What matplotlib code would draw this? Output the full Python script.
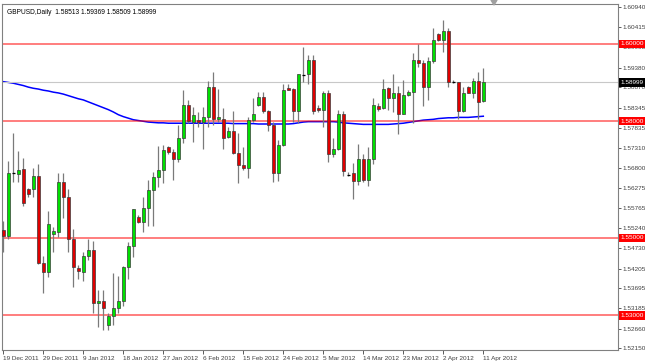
import matplotlib
matplotlib.use("Agg")
import matplotlib.pyplot as plt
import matplotlib.transforms as mtransforms
from matplotlib.patches import Polygon
import numpy as np

plt.rcParams['font.family'] = ['Liberation Sans', 'DejaVu Sans']

# GBPUSD daily bars, 19 Dec 2011 .. 11 Apr 2012
opens = [1.5520, 1.5504, 1.5666, 1.5663, 1.5677, 1.5626, 1.5625, 1.5659, 1.5434, 1.5411,
         1.5509, 1.5515, 1.5643, 1.5606, 1.5496, 1.5422, 1.5412, 1.5454, 1.5468, 1.5333,
         1.5338, 1.5275, 1.5298, 1.5318, 1.5338, 1.5424, 1.5479, 1.5554, 1.5540, 1.5576,
         1.5623, 1.5656, 1.5674, 1.5733, 1.5721, 1.5702, 1.5757, 1.5843, 1.5799, 1.5803,
         1.5798, 1.5810, 1.5889, 1.5805, 1.5806, 1.5760, 1.5774, 1.5719, 1.5688, 1.5680,
         1.5803, 1.5842, 1.5863, 1.5827, 1.5790, 1.5667, 1.5740, 1.5885, 1.5883, 1.5826,
         1.5919, 1.5921, 1.5958, 1.5835, 1.5829, 1.5872, 1.5717, 1.5728, 1.5818, 1.5661,
         1.5666, 1.5647, 1.5702, 1.5649, 1.5702, 1.5840, 1.5834, 1.5885, 1.5861, 1.5872,
         1.5820, 1.5867, 1.5876, 1.5958, 1.5951, 1.5889, 1.5955, 1.6024, 1.6009, 1.6033,
         1.5902, 1.5900, 1.5827, 1.5889, 1.5873, 1.5904, 1.58513]
highs = [1.5544, 1.5698, 1.5770, 1.5724, 1.5705, 1.5629, 1.5679, 1.5690, 1.5453, 1.5569,
         1.5528, 1.5668, 1.5668, 1.5625, 1.5522, 1.5430, 1.5464, 1.5498, 1.5492, 1.5365,
         1.5365, 1.5305, 1.5408, 1.5401, 1.5427, 1.5490, 1.5574, 1.5558, 1.5606, 1.5650,
         1.5670, 1.5736, 1.5739, 1.5736, 1.5728, 1.5790, 1.5880, 1.5856, 1.5837, 1.5824,
         1.5837, 1.5904, 1.5927, 1.5882, 1.5833, 1.5786, 1.5826, 1.5769, 1.5733, 1.5812,
         1.5861, 1.5876, 1.5876, 1.5829, 1.5798, 1.5751, 1.5897, 1.5897, 1.5885, 1.5923,
         1.5990, 1.5970, 1.5970, 1.5842, 1.5878, 1.5880, 1.5757, 1.5829, 1.5827, 1.5670,
         1.5693, 1.5741, 1.5717, 1.5733, 1.5859, 1.5846, 1.5910, 1.5889, 1.5921, 1.5891,
         1.5906, 1.5880, 1.5975, 1.5998, 1.5958, 1.5966, 1.6039, 1.6028, 1.6062, 1.6039,
         1.5906, 1.5902, 1.5887, 1.5891, 1.5912, 1.5927, 1.59369]
lows = [1.5464, 1.5498, 1.5644, 1.5644, 1.5582, 1.5606, 1.5606, 1.5432, 1.5358, 1.5400,
        1.5464, 1.5503, 1.5552, 1.5464, 1.5372, 1.5394, 1.5389, 1.5443, 1.5306, 1.5271,
        1.5262, 1.5262, 1.5275, 1.5306, 1.5324, 1.5395, 1.5451, 1.5537, 1.5515, 1.5530,
        1.5530, 1.5631, 1.5640, 1.5717, 1.5650, 1.5696, 1.5743, 1.5795, 1.5747, 1.5784,
        1.5728, 1.5786, 1.5790, 1.5798, 1.5728, 1.5758, 1.5715, 1.5642, 1.5674, 1.5653,
        1.5799, 1.5839, 1.5822, 1.5775, 1.5644, 1.5647, 1.5736, 1.5880, 1.5799, 1.5795,
        1.5902, 1.5897, 1.5820, 1.5824, 1.5784, 1.5696, 1.5708, 1.5726, 1.5659, 1.5659,
        1.5601, 1.5636, 1.5644, 1.5633, 1.5691, 1.5827, 1.5831, 1.5829, 1.5824, 1.5767,
        1.5820, 1.5865, 1.5796, 1.5940, 1.5839, 1.5856, 1.5951, 1.6007, 1.5979, 1.5889,
        1.5899, 1.5805, 1.5824, 1.5872, 1.5861, 1.5805, 1.58509]
closes = [1.5504, 1.5666, 1.5666, 1.5675, 1.5589, 1.5612, 1.5659, 1.5434, 1.5411, 1.5536,
          1.5517, 1.5643, 1.5606, 1.5496, 1.5424, 1.5414, 1.5454, 1.5468, 1.5333, 1.5337,
          1.5318, 1.5298, 1.5318, 1.5338, 1.5424, 1.5479, 1.5573, 1.5540, 1.5576, 1.5623,
          1.5656, 1.5674, 1.5726, 1.5721, 1.5702, 1.5757, 1.5843, 1.5800, 1.5816, 1.5798,
          1.5810, 1.5889, 1.5806, 1.5810, 1.5758, 1.5774, 1.5719, 1.5687, 1.5680, 1.5803,
          1.5820, 1.5863, 1.5827, 1.5790, 1.5667, 1.5740, 1.5880, 1.5880, 1.5826, 1.5921,
          1.5919, 1.5958, 1.5827, 1.5829, 1.5872, 1.5717, 1.5728, 1.5818, 1.5672, 1.5661,
          1.5647, 1.5702, 1.5649, 1.5702, 1.5842, 1.5831, 1.5884, 1.5860, 1.5872, 1.5820,
          1.5867, 1.5876, 1.5958, 1.5949, 1.5889, 1.5955, 1.6009, 1.6009, 1.6033, 1.5902,
          1.5902, 1.5827, 1.5872, 1.5873, 1.5903, 1.5850, 1.58999]

# moving average (blue line)
ma = [1.5902, 1.5900, 1.5898, 1.5895, 1.5892, 1.5888, 1.5885, 1.5883, 1.5880, 1.5878,
      1.5875, 1.5873, 1.5870, 1.5866, 1.5862, 1.5858, 1.5855, 1.5850, 1.5845, 1.5840,
      1.5835, 1.5830, 1.5824, 1.5817, 1.5812, 1.5808, 1.5804, 1.5802, 1.5800, 1.5798,
      1.5797, 1.5796, 1.5796, 1.5795, 1.5795, 1.5795, 1.5795, 1.5795, 1.5795, 1.5795,
      1.5795, 1.5795, 1.5795, 1.5795, 1.5795, 1.5795, 1.5794, 1.5794, 1.5794, 1.5794,
      1.5794, 1.5793, 1.5793, 1.5793, 1.5793, 1.5793, 1.5793, 1.5793, 1.5794, 1.5796,
      1.5798, 1.5799, 1.5799, 1.5799, 1.5799, 1.5799, 1.5799, 1.5798, 1.5796, 1.5795,
      1.5794, 1.5793, 1.5792, 1.5792, 1.5792, 1.5792, 1.5792, 1.5792, 1.5793, 1.5794,
      1.5795, 1.5797, 1.5799, 1.5801, 1.5803, 1.5804, 1.5805, 1.5807, 1.5808, 1.5809,
      1.5809, 1.5810, 1.5810, 1.5810, 1.5811, 1.5812, 1.5813]

levels = [1.60000, 1.58000, 1.55000, 1.53000]
price_ticks = [1.60940, 1.60415, 1.59905, 1.59380, 1.58870, 1.58345, 1.57835, 1.57310,
               1.56800, 1.56275, 1.55765, 1.55240, 1.54730, 1.54205, 1.53695, 1.53185,
               1.52660, 1.52150]
date_labels = ['19 Dec 2011', '29 Dec 2011', '9 Jan 2012', '18 Jan 2012', '27 Jan 2012',
               '6 Feb 2012', '15 Feb 2012', '24 Feb 2012', '5 Mar 2012', '14 Mar 2012',
               '23 Mar 2012', '2 Apr 2012', '11 Apr 2012']
bars_per_label = 8

o = np.array(opens); h = np.array(highs); l = np.array(lows); c = np.array(closes)
x = np.arange(len(o))

fig = plt.figure(figsize=(6.45, 3.63), dpi=100)
ax = fig.add_axes([2/645, 1-350/363, 616/645, 346/363])

ax.plot(x, ma, color='#0000ff', lw=1.1, zorder=1)
for lv in levels:
    ax.axhline(lv, color='#ff0000', lw=1.3, alpha=0.55, zorder=2)
ax.axhline(c[-1], color='#c8c8c8', lw=0.8, zorder=1)

ax.vlines(x, l, h, color='#7a7a7a', lw=0.9, zorder=3)
up = c > o
dn = c < o
eq = c == o
ax.bar(x[up], (c - o)[up], bottom=o[up], width=0.62, color='#00e000',
       edgecolor='#3a3a3a', lw=0.5, zorder=4)
ax.bar(x[dn], (o - c)[dn], bottom=c[dn], width=0.62, color='#e00000',
       edgecolor='#3a3a3a', lw=0.5, zorder=4)
ax.hlines(c[eq], x[eq] - 0.35, x[eq] + 0.35, color='black', lw=0.9, zorder=4)

ax.set_xlim(-0.26, 122.94)
ax.set_ylim(1.5211, 1.6102)

ax.yaxis.tick_right()
ax.set_yticks(price_ticks)
ax.set_yticklabels(['%.5f' % t for t in price_ticks])
ax.tick_params(axis='y', length=2, width=0.6, colors='#404040', pad=1, labelsize=4.6)
ax.set_xticks(np.arange(len(date_labels)) * bars_per_label)
ax.set_xticklabels(date_labels, ha='left')
ax.tick_params(axis='x', length=3, width=0.6, colors='#404040', pad=1, labelsize=4.6)
for s in ax.spines.values():
    s.set_color('#808080')
    s.set_linewidth(0.8)

trans = mtransforms.blended_transform_factory(ax.transAxes, ax.transData)
for lv in levels:
    ax.text(1.004, lv, '%.5f' % lv, transform=trans, ha='left', va='center',
            fontsize=4.6, color='white', zorder=10, clip_on=False,
            bbox=dict(boxstyle='square,pad=0.25', fc='#ff0000', ec='none'))
ax.text(1.004, c[-1], '%.5f' % c[-1], transform=trans, ha='left', va='center',
        fontsize=4.6, color='white', zorder=10, clip_on=False,
        bbox=dict(boxstyle='square,pad=0.25', fc='black', ec='none'))

ax.text(0.008, 0.985, 'GBPUSD,Daily  %.5f %.5f %.5f %.5f' % (o[-1], h[-1], l[-1], c[-1]),
        transform=ax.transAxes, ha='left', va='top', fontsize=4.8, color='black')

fig.add_artist(Polygon([[491/645, 1.0], [497/645, 1.0], [494/645, 1 - 5/363]],
                       closed=True, transform=fig.transFigure, color='#a0a0a0'))

fig.savefig('out.png', dpi=100, facecolor='white')
